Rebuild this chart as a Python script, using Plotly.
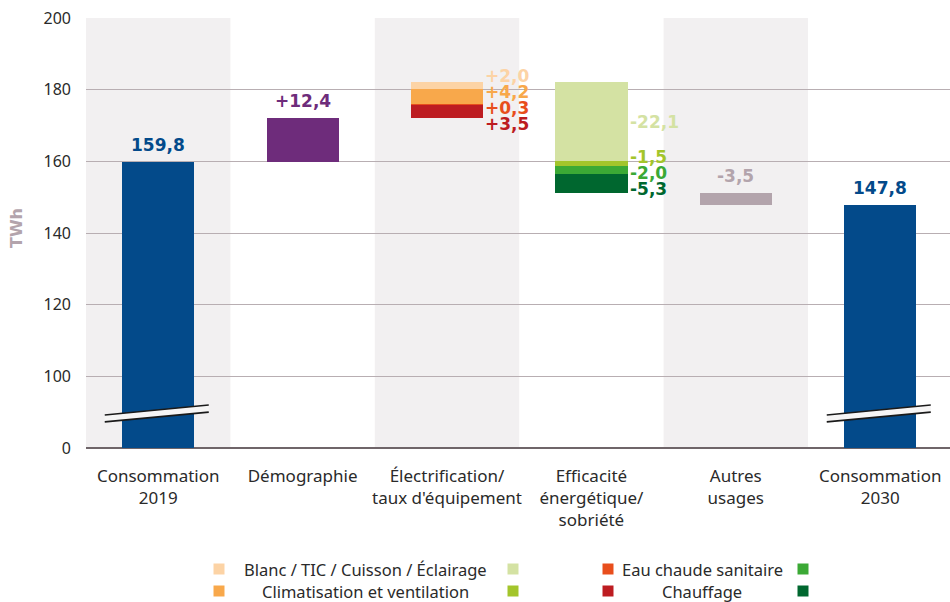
import plotly.graph_objects as go

# ---- data -------------------------------------------------------------
categories = [
    "Consommation<br>2019",
    "Démographie",
    "Électrification/<br>taux d'équipement",
    "Efficacité<br>énergétique/<br>sobriété",
    "Autres<br>usages",
    "Consommation<br>2030",
]
usages = [
    "Blanc / TIC / Cuisson / Éclairage",
    "Climatisation et ventilation",
    "Eau chaude sanitaire",
    "Chauffage",
]
conso_2019 = 159.8
demographie = 12.4
electrification = [2.0, 4.2, 0.3, 3.5]     # per usage, same order as `usages`
efficacite = [-22.1, -1.5, -2.0, -5.3]     # per usage, same order as `usages`
autres_usages = -3.5
conso_2030 = 147.8

y_ticks = [0, 100, 120, 140, 160, 180, 200]

# ---- styling ----------------------------------------------------------
W, H = 950, 602
ML, MR, MT, MB = 86, 0, 18, 154
PW, PH = W - ML - MR, H - MT - MB
CAT_PX = 144.4
X_RANGE = [-0.5, -0.5 + PW / CAT_PX]
Y_RANGE = [0, 120]
PX_PER_UNIT = PH / (Y_RANGE[1] - Y_RANGE[0])
BAR_W = 0.5

BLUE = "#034a8a"
PURPLE = "#6e2c7b"
GREY = "#b3a4ac"
ELEC_COLORS = ["#fcd3a5", "#f8a84b", "#e84e1c", "#bd1c21"]
EFF_COLORS = ["#d4e2a3", "#a3c52b", "#3ba935", "#00672f"]
BAND = "#f2f0f1"
TXT = "#2a2a2a"
BOLD_FONT = "DejaVu Sans"
FONT = "Noto Sans"


def yu(v):
    """Broken axis: 0-100 squeezed into 0-20, values above 100 shifted by 80."""
    return v - 80 if v >= 100 else v * 0.2


def px_x(px):
    return (px - ML) / PW


def px_y(py):
    return (H - MB - py) / PH


def spread(centers, gap):
    """Push labels apart (top to bottom) so they keep at least `gap` between them."""
    groups = [[c] for c in centers]
    changed = True
    while changed:
        changed = False
        for i in range(len(groups) - 1):
            a, b = groups[i], groups[i + 1]
            ma, mb = sum(a) / len(a), sum(b) / len(b)
            if (ma - gap * (len(a) - 1) / 2) - (mb + gap * (len(b) - 1) / 2) < gap:
                groups[i] = a + b
                del groups[i + 1]
                changed = True
                break
    out = []
    for g in groups:
        m = sum(g) / len(g)
        n = len(g)
        out += [m + gap * ((n - 1) / 2 - k) for k in range(n)]
    return out


fig = go.Figure()
annotations = []
shapes = []


def add_bar(x, lo, hi, color, name):
    fig.add_trace(go.Bar(
        x=[x], y=[yu(hi) - yu(lo)], base=[yu(lo)], width=BAR_W,
        marker=dict(color=color, line=dict(width=0)), name=name,
        showlegend=False, hoverinfo="skip",
    ))


def value_label(x, top, text, color):
    annotations.append(dict(
        x=x, y=yu(top), xref="x", yref="y", text=f"<b>{text}</b>",
        showarrow=False, yanchor="middle", yshift=17,
        font=dict(family=BOLD_FONT, size=17, color=color),
    ))


def segment_labels(x, segs, values, colors):
    centers = [yu((lo + hi) / 2) for lo, hi in segs]
    for yy, v, c in zip(spread(centers, 16 / PX_PER_UNIT), values, colors):
        annotations.append(dict(
            x=x + BAR_W / 2, y=yy, xref="x", yref="y", text=f"<b>{fmt(v)}</b>",
            showarrow=False, xanchor="left", yanchor="middle", xshift=0, yshift=-1,
            font=dict(family=BOLD_FONT, size=17, color=c),
        ))


def fmt(v, sign=True):
    s = f"{abs(v):.1f}".replace(".", ",")
    if not sign:
        return s
    return ("+" if v >= 0 else "-") + s


# Consommation 2019
add_bar(0, 0, conso_2019, BLUE, "2019")
value_label(0, conso_2019, fmt(conso_2019, False), BLUE)

# Démographie
level = conso_2019
add_bar(1, level, level + demographie, PURPLE, "Démographie")
value_label(1, level + demographie, fmt(demographie), PURPLE)
level += demographie

# Électrification: stacked upward, Chauffage at the bottom
segs = [None] * len(usages)
cur = level
for i in reversed(range(len(usages))):
    segs[i] = (cur, cur + electrification[i])
    cur += electrification[i]
for i in range(len(usages)):
    add_bar(2, segs[i][0], segs[i][1], ELEC_COLORS[i], usages[i])
segment_labels(2, segs, electrification, ELEC_COLORS)
level = cur

# Efficacité énergétique: stacked downward, Blanc at the top
segs = [None] * len(usages)
cur = level
for i in range(len(usages)):
    segs[i] = (cur + efficacite[i], cur)
    cur += efficacite[i]
for i in range(len(usages)):
    add_bar(3, segs[i][0], segs[i][1], EFF_COLORS[i], usages[i])
segment_labels(3, segs, efficacite, EFF_COLORS)
level = cur

# Autres usages
add_bar(4, level + autres_usages, level, GREY, "Autres usages")
value_label(4, level, fmt(autres_usages), GREY)

# Consommation 2030
add_bar(5, 0, conso_2030, BLUE, "2030")
value_label(5, conso_2030, fmt(conso_2030, False), BLUE)

# Alternating background bands
for i in (0, 2, 4):
    shapes.append(dict(type="rect", xref="x", yref="paper", x0=i - 0.5, x1=i + 0.5,
                       y0=0, y1=1, fillcolor=BAND, line=dict(width=0), layer="below"))

# Axis-break marks across the two total bars
for i in (0, 5):
    xl, xr = i - 0.37, i + 0.35
    top_l, top_r, bot_l, bot_r = 9.2, 12.0, 7.3, 10.0
    shapes.append(dict(type="path", xref="x", yref="y",
                       path=f"M {xl},{top_l} L {xr},{top_r} L {xr},{bot_r} L {xl},{bot_l} Z",
                       fillcolor="#f6f5f5", line=dict(width=0)))
    for (a, b) in ((top_l, top_r), (bot_l, bot_r)):
        shapes.append(dict(type="line", xref="x", yref="y", x0=xl, x1=xr, y0=a, y1=b,
                           line=dict(color="#1a1a1a", width=1.6)))

# Legend, laid out by hand: two usages per row, electrification swatch left,
# efficiency swatch right
legend_rows = [(0, 569), (1, 591)]
for idx_offset, sq_l, txt_c, sq_r in [(0, 219, 365, 513), (2, 608, 702, 803)]:
    for r, py in legend_rows:
        k = idx_offset + r
        for sx, color in ((sq_l, ELEC_COLORS[k]), (sq_r, EFF_COLORS[k])):
            shapes.append(dict(type="rect", xref="paper", yref="paper",
                               x0=px_x(sx - 5.5), x1=px_x(sx + 5.5),
                               y0=px_y(py + 5.5), y1=px_y(py - 5.5),
                               fillcolor=color, line=dict(width=0)))
        annotations.append(dict(x=px_x(txt_c), y=px_y(py), xref="paper", yref="paper",
                                text=usages[k], showarrow=False, xanchor="center",
                                yanchor="middle", font=dict(family=FONT, size=16.5, color=TXT)))

# Y-axis title
annotations.append(dict(x=px_x(16), y=px_y(228), xref="paper", yref="paper",
                        text="<b>TWh</b>", textangle=-90, showarrow=False,
                        xanchor="center", yanchor="middle",
                        font=dict(family=BOLD_FONT, size=16, color=GREY)))

fig.update_layout(
    width=W, height=H,
    margin=dict(l=ML, r=MR, t=MT, b=MB, pad=0),
    paper_bgcolor="white", plot_bgcolor="white",
    barmode="overlay", bargap=0,
    showlegend=False,
    shapes=shapes, annotations=annotations,
    xaxis=dict(
        range=X_RANGE, tickmode="array", tickvals=list(range(len(categories))),
        ticktext=categories, showgrid=False, zeroline=False, showline=False,
        ticks="", ticklabelstandoff=16,
        tickfont=dict(family=FONT, size=17, color=TXT), fixedrange=True,
    ),
    yaxis=dict(
        range=Y_RANGE, tickmode="array", tickvals=[yu(v) for v in y_ticks],
        ticktext=[str(v) for v in y_ticks], showgrid=True, gridcolor="#b8aeb2",
        gridwidth=1, zeroline=True, zerolinecolor="#6f6569", zerolinewidth=1.5,
        showline=False, ticks="", ticklabelstandoff=14,
        tickfont=dict(family=FONT, size=16, color=TXT), fixedrange=True,
    ),
    font=dict(family=FONT, color=TXT),
)

fig.write_html("out.html")
